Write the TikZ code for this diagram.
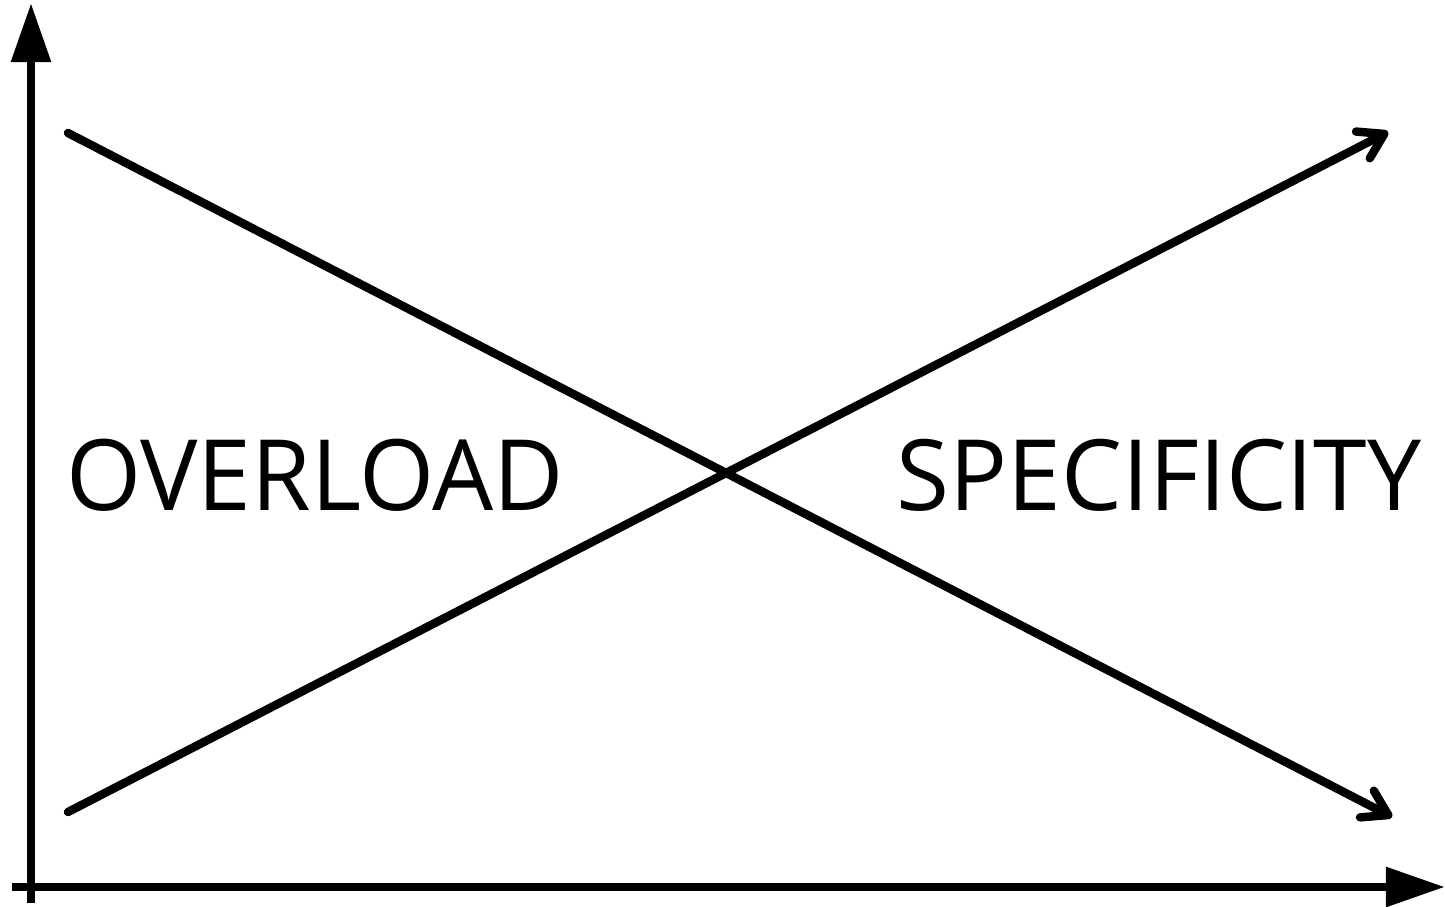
\documentclass[tikz,border=0pt]{standalone}
\usepackage{fontspec}
\setmainfont{Open Sans}
\usetikzlibrary{arrows.meta}

\begin{document}
\begin{tikzpicture}[x=0.01cm, y=-0.01cm,
  axis/.style={line width=2.5pt, -{Triangle[length=0.59cm, width=0.38cm]}},
  trend/.style={line width=2.4pt, line cap=round, -{Straight Barb[length=0.24cm, width=0.3cm, line cap=round, line join=round]}},
  label/.style={font=\fontsize{28}{30}\selectfont, inner sep=0pt, xscale=0.98}]
\useasboundingbox (0,0) rectangle (1445,907);

\coordinate(O1) at (31,903);
\coordinate(YT) at (31,3);
\coordinate(O2) at (12,887);
\coordinate(XT) at (1445,887);

\draw[axis] (O1) -- (YT);
\draw[axis] (O2) -- (XT);

\coordinate(UP0) at (68,812);
\coordinate(UP1) at (1388,132);
\coordinate(DN0) at (68,133);
\coordinate(DN1) at (1392,817);

\draw[trend] (UP0) -- (UP1);
\draw[trend] (DN0) -- (DN1);

\node[label](OV) at (315,475){OVERLOAD};
\node[label](SP) at (1159,475){SPECIFICITY};
\end{tikzpicture}
\end{document}
